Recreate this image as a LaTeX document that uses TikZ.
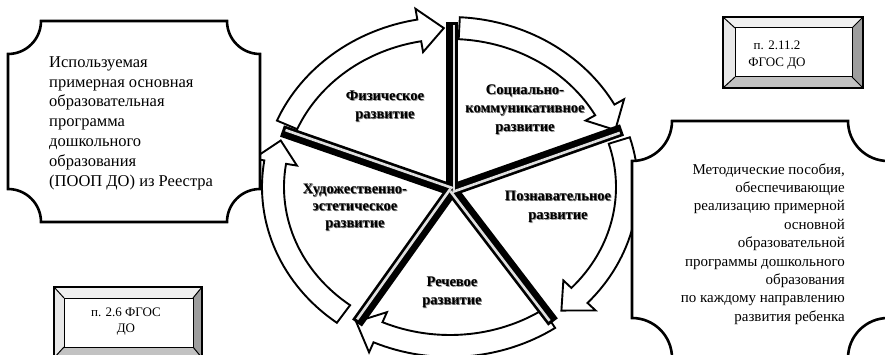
\documentclass[tikz,border=0pt]{standalone}
\usepackage{fontspec}
\setmainfont{Liberation Serif}
\usetikzlibrary{calc}
\newcommand{\shd}[1]{\leavevmode\rlap{\kern1pt\raisebox{-1pt}{\textcolor{black!40}{#1}}}\rlap{\kern0.5pt\raisebox{-0.5pt}{\textcolor{black!60}{#1}}}#1}
\newcommand{\ringarrow}[2]{%
  \pgfmathsetmacro\rahead{#2-8}%
  \draw[arrowband] ($(R)+(#1:188 and 170)$)
    arc[start angle=#1, end angle=\rahead, x radius=188, y radius=170]
    -- ($(R)+(\rahead:199 and 181)$)
    -- ($(R)+(#2:177 and 159)$)
    -- ($(R)+(\rahead:155 and 137)$)
    -- ($(R)+(\rahead:166 and 148)$)
    arc[start angle=\rahead, end angle=#1, x radius=166, y radius=148]
    -- cycle;}
\newcommand{\plaquepath}[5]{%
  \draw[plaque] (#1+#5,#2) -- (#3-#5,#2)
    arc[start angle=180,end angle=90,radius=#5] -- (#3,#4-#5)
    arc[start angle=-90,end angle=-180,radius=#5] -- (#1+#5,#4)
    arc[start angle=0,end angle=-90,radius=#5] -- (#1,#2+#5)
    arc[start angle=90,end angle=0,radius=#5] -- cycle;}
\newcommand{\bevelbox}[8]{%
  \fill[black!6] (#1,#2) -- (#3,#2) -- (#7,#6) -- (#5,#6) -- cycle;
  \fill[black!9] (#1,#2) -- (#5,#6) -- (#5,#8) -- (#1,#4) -- cycle;
  \fill[black!38] (#3,#2) -- (#3,#4) -- (#7,#8) -- (#7,#6) -- cycle;
  \fill[black!24] (#1,#4) -- (#5,#8) -- (#7,#8) -- (#3,#4) -- cycle;
  \draw[line width=1pt,fill=white] (#5,#6) rectangle (#7,#8);
  \draw[line width=1pt] (#1,#2) -- (#5,#6) (#3,#2) -- (#7,#6) (#1,#4) -- (#5,#8) (#3,#4) -- (#7,#8);
  \draw[line width=2.8pt] (#1,#2) rectangle (#3,#4);}
\begin{document}
\begin{tikzpicture}[x=1pt,y=-1pt,
  plaque/.style={draw=black, line width=2.6pt, fill=white},
  arrowband/.style={draw=black, line width=1.9pt, fill=white, line join=miter},
  spokeblack/.style={line width=12pt, black},
  spokegray/.style={line width=2.6pt, black!12},
  lbl/.style={font=\fontsize{14.5}{18.5}\selectfont\bfseries, align=center, inner sep=0pt},
  bodytext/.style={inner sep=0pt},
  boxtext/.style={font=\fontsize{13}{16.5}\selectfont, align=center, inner sep=0pt}]
\useasboundingbox (0,0) rectangle (885,355);
\clip (0,0) rectangle (885,355);
\fill[white] (0,0) rectangle (885,355);
\coordinate (R) at (450,187);
\coordinate (C) at (452,190);
\coordinate (eT) at (452,22);
\coordinate (eUR) at (622,130);
\coordinate (eLR) at (553,322);
\coordinate (eLL) at (357,323);
\coordinate (eUL) at (282,131);
% ring arrows (clockwise)
\ringarrow{203}{268}
\ringarrow{-87}{-21}
\ringarrow{-17}{51}
\ringarrow{56}{122}
\ringarrow{127}{197}
% spokes
\foreach \e in {eT,eUR,eLR,eLL,eUL}{\draw[spokeblack] (C) -- (\e);}
\foreach \e in {eT,eUR,eLR,eLL,eUL}{\draw[spokegray] ($(C)!2pt!-90:(\e)$) -- ($($(\e)!3pt!(C)$)!2pt!90:(C)$);}
% sector labels
\node[lbl] (phys) at (385,107) {\shd{Физическое}\\\shd{развитие}};
\node[lbl] (soc) at (525,110) {\shd{Социально-}\\\shd{коммуникативное}\\\shd{развитие}};
\node[lbl] (cog) at (558,207.5) {\shd{Познавательное}\\\shd{развитие}};
\node[lbl] (speech) at (452,293) {\shd{Речевое}\\\shd{развитие}};
\node[lbl,font=\fontsize{14.5}{17}\selectfont\bfseries] (art) at (355,208) {\shd{Художественно-}\\\shd{эстетическое}\\\shd{развитие}};
% plaques
\plaquepath{8}{21}{260}{222}{33}
\node[bodytext, anchor=west, align=left, font=\fontsize{16.5}{19.8}\selectfont] (ldesc) at (49,123)
  {Используемая\\примерная основная\\образовательная\\программа\\дошкольного\\образования\\(ПООП ДО) из Реестра};
\plaquepath{632}{121}{888}{358}{40}
\node[bodytext, anchor=east, align=right, font=\fontsize{15}{18.4}\selectfont] (rdesc) at (845,244)
  {Методические пособия,\\обеспечивающие\\реализацию примерной\\основной\\образовательной\\программы дошкольного\\образования\\по каждому направлению\\развития ребенка};
% bevel boxes
\bevelbox{723}{17}{863}{88}{735}{28}{852}{77}
\node[boxtext] (fgos1) at (777,55) {п. 2.11.2\\ФГОС ДО};
\bevelbox{54}{287}{202}{358}{64}{298}{193}{347}
\node[boxtext] (fgos2) at (126,321.5) {п. 2.6 ФГОС\\ДО};
\end{tikzpicture}
\end{document}
